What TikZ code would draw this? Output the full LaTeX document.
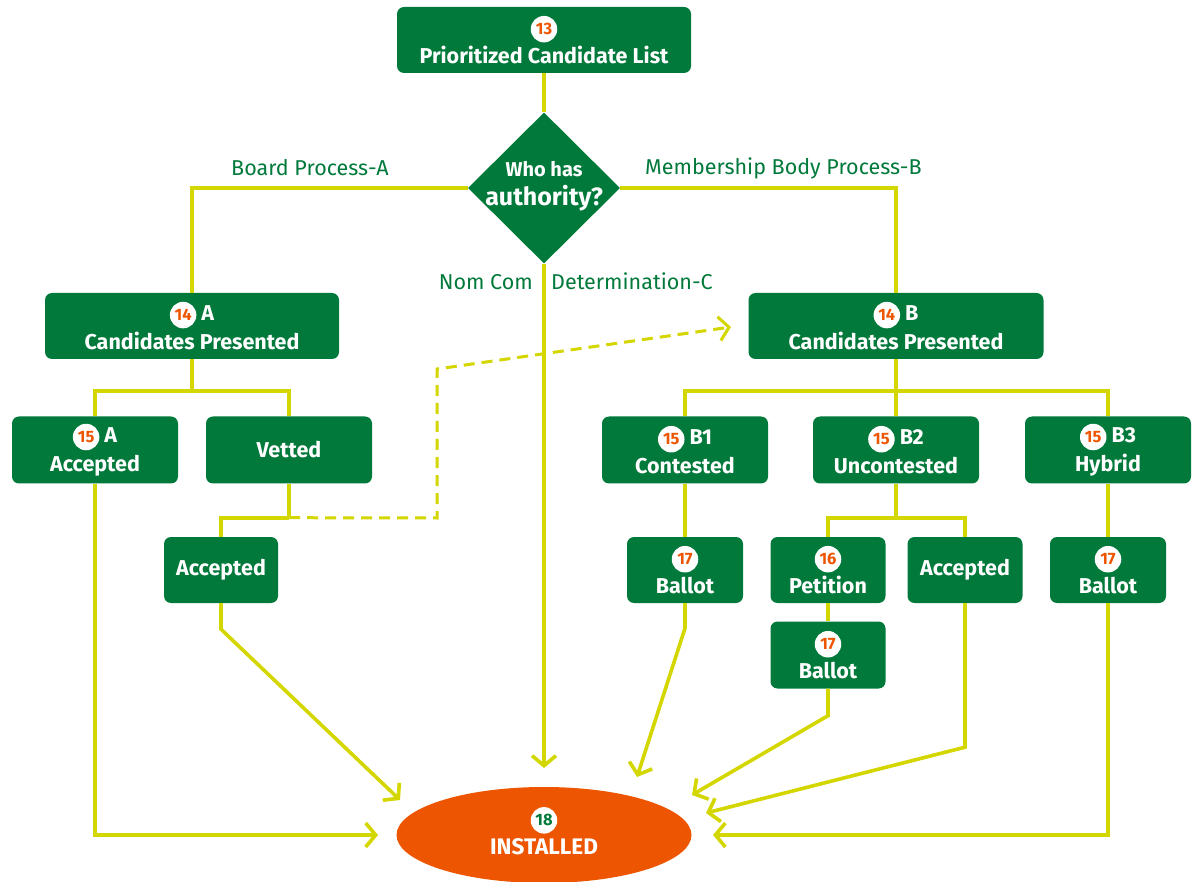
\documentclass[tikz,border=0pt]{standalone}
\usepackage{fontspec}
\setmainfont{Fira Sans}
\usetikzlibrary{shapes.geometric,arrows.meta}

\definecolor{boxgreen}{RGB}{0,121,58}
\definecolor{flowyellow}{RGB}{212,214,0}
\definecolor{installorange}{RGB}{238,85,0}

% white dot with step number
\newcommand{\numdot}[2][installorange]{%
  \tikz[baseline=(dot.base)]\node[circle,fill=white,inner sep=0pt,minimum size=26.5pt,
    text=#1,font=\fontsize{16.5}{16.5}\selectfont\bfseries] (dot) {#2};}

\begin{document}
\begin{tikzpicture}[x=1pt,y=-1pt,
    box/.style={rectangle,rounded corners=7pt,fill=boxgreen,text=white,align=center,
      font=\fontsize{21.5}{29}\selectfont\bfseries,inner sep=0pt,minimum height=66pt},
    flow/.style={draw=flowyellow,line width=3.6pt},
    arr/.style={flow,-{Straight Barb[length=10pt,width=24pt]}},
    branch/.style={text=boxgreen,inner sep=0pt,font=\fontsize{21.5}{21.5}\selectfont}]
  \useasboundingbox (0,0) rectangle (1200,882);

  % top of the tree
  \node[box,minimum width=294pt] (list) at (544,40) {\numdot{13}\\Prioritized Candidate List};
  \node[diamond,fill=boxgreen,minimum width=152pt,minimum height=151pt,inner sep=0pt] (who) at (544,188) {};
  \node[text=white,align=center,font=\fontsize{20}{29}\selectfont\bfseries] (whotext) at (544,186)
    {Who has\\{\fontsize{25}{29}\selectfont authority?}};

  % branch labels
  \node[branch,anchor=base west] (labelA) at (231,176) {Board Process-A};
  \node[branch,anchor=base west] (labelB) at (645,175) {Membership Body Process-B};
  \node[branch,anchor=base east] (labelC) at (533,290) {Nom Com};
  \node[branch,anchor=base west] (labelD) at (551,290) {Determination-C};

  % board process A
  \node[box,minimum width=294pt] (presA) at (192,326) {\numdot{14} A\\Candidates Presented};
  \node[box,minimum width=166pt,minimum height=67pt] (accA) at (95,450) {\numdot{15} A\\Accepted};
  \node[box,minimum width=166pt,minimum height=67pt] (vetted) at (289,450) {Vetted};
  \node[box,minimum width=114pt] (accV) at (221,570) {Accepted};

  % membership body process B
  \node[box,minimum width=295pt] (presB) at (896,326) {\numdot{14} B\\Candidates Presented};
  \node[box,minimum width=166pt,minimum height=67pt] (contested) at (685,450) {\numdot{15} B1\\Contested};
  \node[box,minimum width=166pt,minimum height=67pt] (uncontested) at (896,450) {\numdot{15} B2\\Uncontested};
  \node[box,minimum width=166pt,minimum height=67pt] (hybrid) at (1108,450) {\numdot{15} B3\\Hybrid};
  \node[box,minimum width=116pt] (ballotB1) at (685,570) {\numdot{17}\\Ballot};
  \node[box,minimum width=115pt] (petition) at (828,570) {\numdot{16}\\Petition};
  \node[box,minimum width=115pt] (accB2) at (965,570) {Accepted};
  \node[box,minimum width=116pt] (ballotB3) at (1108,570) {\numdot{17}\\Ballot};
  \node[box,minimum width=115pt,minimum height=67pt] (ballotB2) at (828,655) {\numdot{17}\\Ballot};

  % end of the tree
  \node[ellipse,fill=installorange,text=white,align=center,inner sep=0pt,text depth=8pt,
    font=\fontsize{22.5}{29}\selectfont\bfseries,minimum width=295pt,minimum height=96pt]
    (installed) at (544,835) {\numdot[boxgreen]{18}\\INSTALLED};

  % connectors from the decision
  \draw[flow] (list) -- (who);
  \draw[flow] (who.west) -| (presA.north);
  \draw[flow] (who.east) -| (presB.north);
  \coordinate (tipC) at (544,768);
  \draw[arr] (who.south) -- (tipC);

  % connectors of A
  \draw[flow] (presA.south) -- ++(0,32) coordinate (forkA);
  \draw[flow] (accA.north) |- (forkA) -| (vetted.north);
  \draw[flow] (vetted.south) -- ++(0,34) coordinate (forkV);
  \draw[flow] (forkV) -| (accV.north);
  \coordinate (tipP) at (731,327);
  \draw[flow,line width=3pt,dash pattern=on 11pt off 7pt,-{Straight Barb[length=10pt,width=24pt]}]
    (forkV) -- (437,518) -- (437,369) -- (tipP);
  \coordinate (tipA1) at (378,835);
  \draw[arr] (accA.south) |- (tipA1);
  \coordinate (tipA2) at (400,800);
  \draw[arr] (accV.south) -- ++(0,26) -- (tipA2);

  % connectors of B
  \draw[flow] (presB.south) -- ++(0,32) coordinate (forkB);
  \draw[flow] (contested.north) |- (forkB) -| (hybrid.north);
  \draw[flow] (forkB) -- (uncontested.north);
  \draw[flow] (contested) -- (ballotB1);
  \draw[flow] (hybrid) -- (ballotB3);
  \draw[flow] (uncontested.south) -- ++(0,34) coordinate (forkU);
  \draw[flow] (petition.north) |- (forkU) -| (accB2.north);
  \draw[flow] (petition) -- (ballotB2);
  \coordinate (tipB1) at (637,777);
  \draw[arr] (ballotB1.south) -- ++(0,25) -- (tipB1);
  \coordinate (tipB2) at (692,795);
  \draw[arr] (ballotB2.south) -- ++(0,27) -- (tipB2);
  \coordinate (tipB4) at (706,813);
  \draw[arr] (accB2.south) -- ++(0,144) -- (tipB4);
  \coordinate (tipB3) at (713,835);
  \draw[arr] (ballotB3.south) |- (tipB3);
\end{tikzpicture}
\end{document}
